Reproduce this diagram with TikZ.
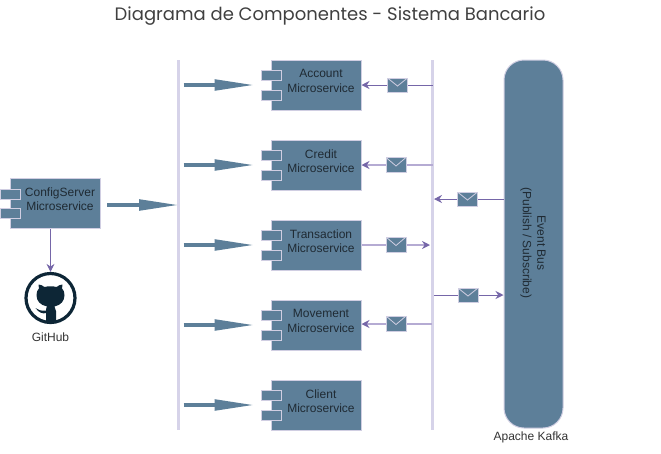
\documentclass[tikz,border=0pt]{standalone}
\usepackage{fontspec}
\setmainfont{Liberation Sans}
\newfontfamily\titlefont{Poppins}
\usetikzlibrary{arrows.meta,calc}
\definecolor{boxfill}{HTML}{5D7F99}
\definecolor{boxline}{HTML}{D0CEE2}
\definecolor{raillight}{HTML}{D6D3E9}
\definecolor{linkdark}{HTML}{7566A8}
\definecolor{linklight}{HTML}{B5ABD3}
\definecolor{ghcolor}{HTML}{0D2636}
\definecolor{inktext}{HTML}{1F2A33}
\tikzset{
  basefont/.style={font=\fontsize{12}{14.4}\selectfont},
  comp/.style={draw=boxline,fill=boxfill,line width=1pt,minimum width=90pt,minimum height=50pt,inner sep=0pt},
  comptext/.style={basefont,text=inktext,align=center,inner sep=0pt},
  port/.style={draw=boxline,fill=boxfill,line width=1pt,minimum width=20pt,minimum height=10pt,inner sep=0pt},
  rail/.style={fill=raillight,minimum width=2.6pt,minimum height=370pt,inner sep=0pt},
  blockarrow/.style={draw=boxfill,line width=3.8pt,-{Triangle[length=40pt,width=10.5pt,color=boxfill]}},
  linkthin/.style={draw=linkdark,line width=1pt,-{Stealth[length=8pt,width=8pt,color=linkdark]}},
  linkthick/.style={draw=linklight,line width=1.6pt,-{Stealth[length=8pt,width=8pt,color=linkdark]}},
  envelope/.style={draw=boxline,fill=boxfill,line width=1pt,minimum width=20pt,minimum height=14pt,inner sep=0pt,
    path picture={\draw[boxline,line width=0.8pt]
      (path picture bounding box.north west) -- ([yshift=-1pt]path picture bounding box.center) -- (path picture bounding box.north east);}},
  plain/.style={basefont,text=black!80,inner sep=0pt}
}
\begin{document}
\begin{tikzpicture}[x=1pt,y=-1pt]
\useasboundingbox (0,0) rectangle (661,453);
\node[font=\titlefont\fontsize{18}{22}\selectfont,text=black!75,inner sep=0pt] (title) at (330,16) {Diagrama de Componentes - Sistema Bancario};

\node[rail] (leftrail) at (178.5,245) {};
\node[rail] (rightrail) at (432.5,245) {};

% components
\foreach \n/\cy/\a/\b in {account/85/Account/Microservice,credit/165/Credit/Microservice,transaction/245/Transaction/Microservice,movement/325/Movement/Microservice,client/405/Client/Microservice}{
  \node[comp] (\n) at (316,\cy) {};
  \node[port] (\n porta) at (271,\cy-10) {};
  \node[port] (\n portb) at (271,\cy+10) {};
  \node[comptext] (\n label) at (321,\cy-4) {\a\\\b};
  \draw[blockarrow,shorten <=3.5pt,shorten >=16pt] (leftrail.east |- \n.west) -- (\n.west);
}

\node[comp] (config) at (55,203.5) {};
\node[port] (config porta) at (10,194) {};
\node[port] (config portb) at (10,213) {};
\node[comptext] (config label) at (60,199) {ConfigServer\\Microservice};
\coordinate (cfgout) at (107,205);
\draw[blockarrow,shorten >=-2pt] (cfgout) -- (leftrail.west |- cfgout);

% GitHub
\node[circle,draw=ghcolor,line width=3.2pt,minimum size=49pt,inner sep=0pt] (github) at (50.5,298) {};
\fill[ghcolor] (46,322) -- (46,313) .. controls (43,314) and (39,313) .. (35.5,308)
  .. controls (38,309.5) and (41,311.5) .. (46,310.5)
  .. controls (46,308.5) and (46.5,307.5) .. (47,306.5)
  .. controls (40,305) and (36.5,301) .. (36.5,295)
  .. controls (36.5,292) and (37.5,290) .. (39,288.5)
  .. controls (38.2,287) and (38,286) .. (38.5,284.5)
  .. controls (40.5,284.5) and (42.5,285.5) .. (44.5,287)
  .. controls (48,286) and (53,286) .. (56.5,287)
  .. controls (58.5,285.5) and (60.5,284.5) .. (62.5,284.5)
  .. controls (63,286) and (62.8,287) .. (62,288.5)
  .. controls (63.5,290) and (64.5,292) .. (64.5,295)
  .. controls (64.5,301) and (61,305) .. (54.5,306.5)
  .. controls (55.5,308) and (56,309) .. (56,311) -- (56,322)
  .. controls (53,323) and (49,323) .. (46,322) -- cycle;
\node[plain] (githublabel) at (50.5,337) {GitHub};
\draw[linkthin] (config.south -| github.north) -- (github.north);

% event bus
\node[draw=boxline,fill=boxfill,line width=1pt,minimum width=59pt,minimum height=368pt,rounded corners=20pt,inner sep=0pt] (bus) at (533.5,244) {};
\node[comptext,rotate=-90] (buslabel) at (533,243) {Event Bus\\(Publish / Subscribe)};
\node[plain] (kafka) at (531,437) {Apache Kafka};

% message connectors
\draw[linkthin] (rightrail.center |- account.east) -- (account.east);
\node[envelope] (mail1) at (397.5,85) {};
\draw[linkthick] (rightrail.center |- credit.east) -- (credit.east);
\node[envelope,minimum height=15pt] (mail2) at (396,165) {};
\draw[linkthick,shorten >=1pt] (transaction.east) -- (rightrail.west |- transaction.east);
\node[envelope,minimum height=15pt] (mail3) at (396,244.5) {};
\coordinate (m0) at (432,324);
\coordinate (m1) at (movement.east |- m0);
\draw[linkthick] (m0) -- (m1);
\node[envelope,minimum height=15pt] (mail4) at (396,323.5) {};
\coordinate (b0) at (bus.west |- 0,199);
\coordinate (b1) at (rightrail.east |- 0,199);
\draw[linkthin] (b0) -- (b1);
\node[envelope] (mail5) at (467.5,199) {};
\coordinate (p0) at (rightrail.east |- 0,295);
\coordinate (p1) at (bus.west |- 0,295);
\draw[linkthin] (p0) -- (p1);
\node[envelope] (mail6) at (468,295) {};
\end{tikzpicture}
\end{document}
